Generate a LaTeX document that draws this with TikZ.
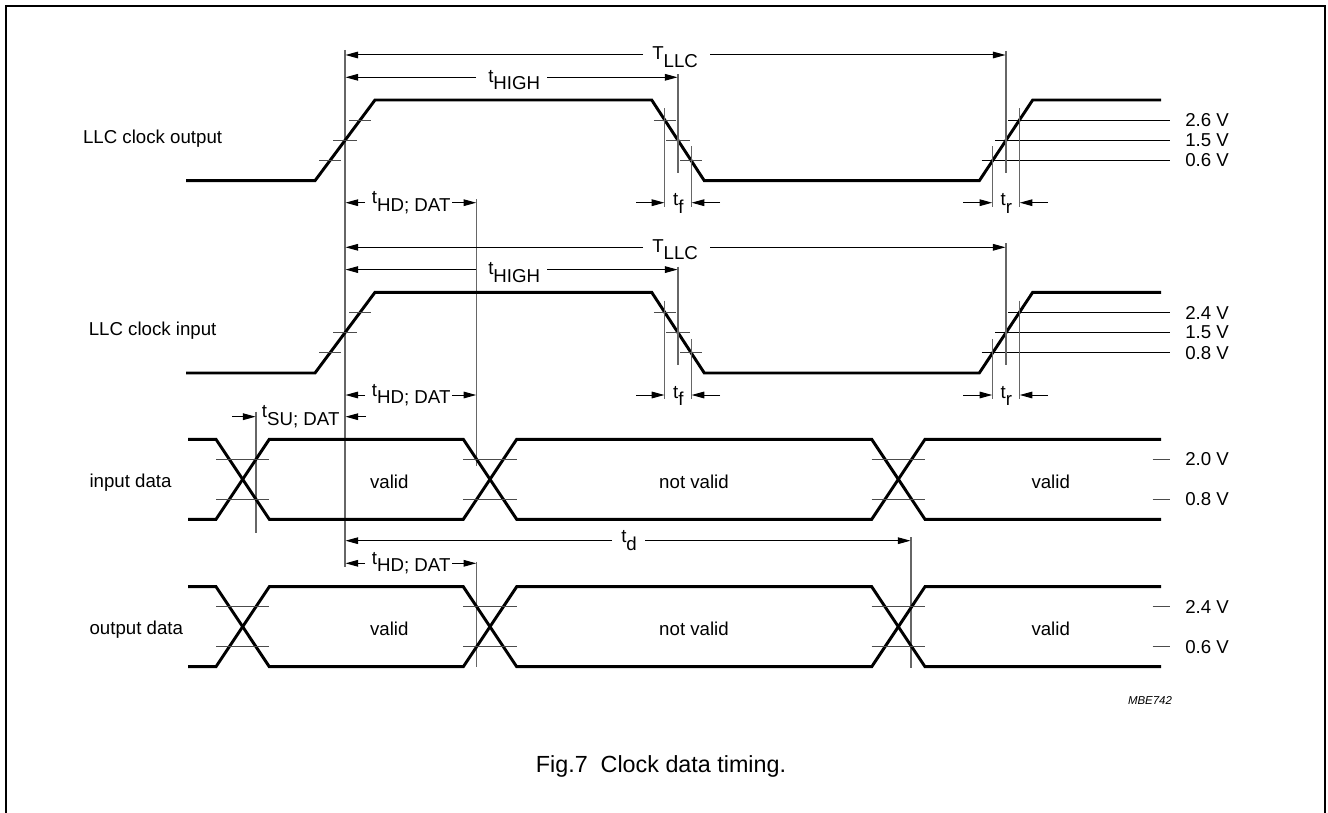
\documentclass[tikz,border=0pt]{standalone}
\usepackage{fontspec}
\setmainfont{Liberation Sans}
\usetikzlibrary{arrows.meta}
\newcommand\mysub[2]{#1\raisebox{-0.4em}{#2}}
\tikzset{
  sig/.style={line width=2.2pt, black},
  refl/.style={line width=0.8pt, black!60},
  tk/.style={line width=0.8pt, black!70},
  thr/.style={line width=0.75pt, black},
  dim/.style={line width=0.75pt, black, -{Triangle[length=9.5pt,width=5pt]}},
  lbl/.style={font=\fontsize{14}{16}\selectfont, inner sep=0pt, anchor=base west},
  volt/.style={font=\fontsize{14}{16}\selectfont, inner sep=0pt, anchor=west},
}
\begin{document}
\begin{tikzpicture}[x=0.75pt,y=-0.75pt]
\useasboundingbox (0,0) rectangle (1328,813);
% frame
\draw[line width=1.2pt] (6,813) -- (6,6) -- (1325,6) -- (1325,813);

% long reference line
\draw[refl] (345,50) -- (345,566.7);
% t_HD;DAT reference lines
\draw[refl] (476.7,199.3) -- (476.7,466);
\draw[refl] (476.7,561.7) -- (476.7,666.7);
\draw[refl] (256,411.7) -- (256,533.3);
\draw[refl] (911,537.3) -- (911,668.3);

% ---------------- clock rows ----------------
\foreach \o/\nm/\va/\vb/\vc [count=\i] in {0/{LLC clock output}/2.6 V/1.5 V/0.6 V, 192.3/{LLC clock input}/2.4 V/1.5 V/0.8 V}{
  \pgfmathsetmacro\H{100+\o}
  \pgfmathsetmacro\L{180.7+\o}
  \pgfmathsetmacro\A{120.2+\o}
  \pgfmathsetmacro\B{140.35+\o}
  \pgfmathsetmacro\C{160.5+\o}
  \pgfmathsetmacro\TL{55+\o}
  \pgfmathsetmacro\TH{77.3+\o}
  \pgfmathsetmacro\TD{202.7+\o}
  \pgfmathsetmacro\LB{143.5+\o}
  % label
  \node[font=\fontsize{14}{16}\selectfont, inner sep=0pt, anchor=base] (clk\i) at (152.6,\LB) {\nm};
  % signal
  \draw[sig] (186,\L) -- (315,\L) -- (375,\H) -- (651.7,\H) -- (704.3,\L) -- (979.3,\L) -- (1032.7,\H) -- (1161,\H);
  % ticks first rise
  \draw[tk] (349,\A) -- (371,\A);
  \draw[tk] (333,\B) -- (357,\B);
  \draw[tk] (319,\C) -- (341,\C);
  % ticks fall
  \draw[tk] (653.85,\A) -- (675.85,\A);
  \draw[tk] (666,\B) -- (690,\B);
  \draw[tk] (680.15,\C) -- (702.15,\C);
  % threshold lines final rise
  \draw[thr] (1008.35,\A) -- (1170,\A);
  \draw[thr] (995,\B) -- (1170,\B);
  \draw[thr] (981.65,\C) -- (1170,\C);
  \node[volt] (va\i) at (1185,\A) {\va};
  \node[volt] (vb\i) at (1185,\B) {\vb};
  \node[volt] (vc\i) at (1185,\C) {\vc};
  % vertical reference lines
  \draw[refl] (664.85,\A-12) -- (664.85,\TD+4);
  \draw[refl] (678,\TH-3) -- (678,\L-8);
  \draw[refl] (691.15,\C-14) -- (691.15,\TD+4);
  \draw[refl] (992.65,\C-14) -- (992.65,\TD+4);
  \draw[refl] (1006,\TL-4) -- (1006,\L-8);
  \draw[refl] (1019.35,\A-12) -- (1019.35,\TD+4);
  % T_LLC
  \node[lbl] (tllc\i) at (652,\TL+5) {\mysub{T}{LLC}};
  \draw[dim] (643,\TL) -- (345.5,\TL);
  \draw[dim] (710,\TL) -- (1005.5,\TL);
  % t_HIGH
  \node[lbl] (thigh\i) at (488,\TH+5) {\mysub{t}{HIGH}};
  \draw[dim] (476,\TH) -- (345.5,\TH);
  \draw[dim] (547,\TH) -- (677.5,\TH);
  % t_HD;DAT
  \node[lbl] (thd\i) at (371.7,\TD+1) {\mysub{t}{HD; DAT}};
  \draw[dim] (365,\TD) -- (345.5,\TD);
  \draw[dim] (452,\TD) -- (476.2,\TD);
  % t_f
  \node[lbl] (tf\i) at (672.8,\TD+3) {\mysub{t}{f}};
  \draw[dim] (636,\TD) -- (664.4,\TD);
  \draw[dim] (720,\TD) -- (691.6,\TD);
  % t_r
  \node[lbl] (tr\i) at (1000.3,\TD+3) {\mysub{t}{r}};
  \draw[dim] (963,\TD) -- (992.2,\TD);
  \draw[dim] (1048,\TD) -- (1019.8,\TD);
}

% ---------------- data rows ----------------
\foreach \o/\nm/\va/\vb [count=\j] in {0/{input data}/2.0 V/0.8 V, 147.4/{output data}/2.4 V/0.6 V}{
  \pgfmathsetmacro\H{439.3+\o}
  \pgfmathsetmacro\L{519.3+\o}
  \pgfmathsetmacro\A{459.3+\o}
  \pgfmathsetmacro\C{499.3+\o}
  \pgfmathsetmacro\TB{487+\o}
  \pgfmathsetmacro\VB{488+\o}
  \node[lbl] (dat\j) at (89.3,\TB) {\nm};
  \draw[sig] (188,\H) -- (216,\H) -- (269.3,\L) -- (463.3,\L) -- (516.7,\H) -- (871.7,\H) -- (925,\L) -- (1161,\L);
  \draw[sig] (188,\L) -- (216,\L) -- (269.3,\H) -- (463.3,\H) -- (516.7,\L) -- (871.7,\L) -- (925,\H) -- (1161,\H);
  \foreach \xa/\xb in {216/269.3, 463.3/516.7, 871.7/925}{
    \draw[tk] (\xa,\A) -- (\xb,\A);
    \draw[tk] (\xa,\C) -- (\xb,\C);
  }
  \draw[tk] (1152.7,\A) -- (1170,\A);
  \draw[tk] (1152.7,\C) -- (1170,\C);
  \node[volt] (dva\j) at (1185,\A) {\va};
  \node[volt] (dvb\j) at (1185,\C) {\vb};
  \node[font=\fontsize{14}{16}\selectfont, inner sep=0pt, anchor=base] (v1\j) at (389.3,\VB) {valid};
  \node[font=\fontsize{14}{16}\selectfont, inner sep=0pt, anchor=base] (nv\j) at (694,\VB) {not valid};
  \node[font=\fontsize{14}{16}\selectfont, inner sep=0pt, anchor=base] (v2\j) at (1050.7,\VB) {valid};
}

% t_SU;DAT
\node[lbl] (tsu) at (261.7,417.7) {\mysub{t}{SU; DAT}};
\draw[dim] (232,416.7) -- (255.6,416.7);
\draw[dim] (366,416.7) -- (345.5,416.7);
% t_HD;DAT output row
\node[lbl] (thd3) at (371.7,564.3) {\mysub{t}{HD; DAT}};
\draw[dim] (365,563.3) -- (345.5,563.3);
\draw[dim] (452,563.3) -- (476.2,563.3);
% t_d
\node[lbl] (td) at (621,542.7) {\mysub{t}{d}};
\draw[dim] (612,540.7) -- (345.5,540.7);
\draw[dim] (645,540.7) -- (910.5,540.7);

% code and caption
\node[font=\fontsize{8.6}{10}\selectfont\itshape, inner sep=0pt] (code) at (1150,700) {MBE742};
\node[font=\fontsize{17.5}{20}\selectfont, inner sep=0pt] (cap) at (661,766) {Fig.7\ \ Clock data timing.};
\end{tikzpicture}
\end{document}
